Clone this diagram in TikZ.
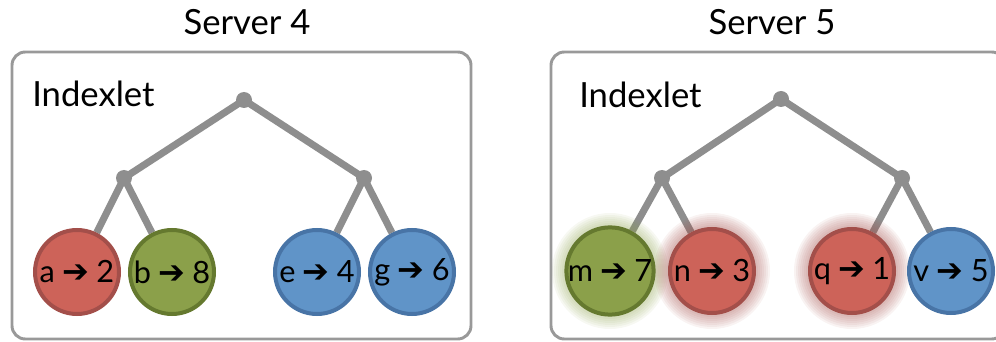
\documentclass[tikz,border=0pt]{standalone}
\usepackage{fontspec}
\setmainfont{Lato}
\newfontfamily\arrowfont{DejaVu Sans}
\usetikzlibrary{positioning}
\definecolor{treegray}{HTML}{8E8E8E}
\definecolor{boxgray}{HTML}{999999}
\definecolor{hotfill}{HTML}{CD6359}
\definecolor{hotline}{HTML}{A34F4A}
\definecolor{newfill}{HTML}{8BA04A}
\definecolor{newline}{HTML}{65792F}
\definecolor{coldfill}{HTML}{6094C8}
\definecolor{coldline}{HTML}{4874A6}
\pgfdeclarelayer{edges}
\pgfdeclarelayer{glow}
\pgfsetlayers{edges,glow,main}
\tikzset{
    % rounded frame of one server
    server/.style={draw=boxgray, line width=2.2pt, rounded corners=10pt},
    % big labels (server name, indexlet)
    title/.style={font=\fontsize{26}{29}\selectfont, inner sep=0pt},
    % inner tree node, a small gray dot
    branch/.style={circle, fill=treegray, inner sep=0pt, minimum size=12pt},
    % tree edges
    link/.style={treegray, line width=5.3pt},
    % leaf entry: key -> value in a coloured disc
    leaf/.style={circle, line width=3pt, inner sep=0pt, minimum size=63pt,
        font=\fontsize{23}{26}\selectfont},
    hot/.style={leaf, fill=hotfill, draw=hotline},
    new/.style={leaf, fill=newfill, draw=newline},
    cold/.style={leaf, fill=coldfill, draw=coldline},
}
\newcommand{\kv}[2]{#1\hspace{5.5pt}{\arrowfont\fontsize{24}{26}\selectfont\char"2794}\hspace{5.5pt}#2}

\begin{document}
\begin{tikzpicture}[x=0.75pt, y=-0.75pt]
    \useasboundingbox (0,0) rectangle (996,342);

    % ---- Server 4 ----
    \draw[server] (12,52) rectangle (471,339);
    \node[title, anchor=base] (s4) at (247,35) {Server 4};
    \node[title, anchor=base west] (ix4) at (32,107) {Indexlet};

    \node[branch] (r4) at (244,100) {};
    \node[branch] (l4) at (124,178) {};
    \node[branch] (m4) at (364,178) {};

    \node[hot]  (a) at (77,272)  {\kv{a}{2}};
    \node[new]  (b) at (172,272) {\kv{b}{8}};
    \node[cold] (e) at (317,272) {\kv{e}{4}};
    \node[cold] (g) at (412,272) {\kv{g}{6}};

    \begin{pgfonlayer}{edges}
        \draw[link] (r4.center) -- (l4.center);
        \draw[link] (r4.center) -- (m4.center);
        \foreach \x in {a,b}{ \draw[link] (l4.center) -- (\x); }
        \foreach \x in {e,g}{ \draw[link] (m4.center) -- (\x); }
    \end{pgfonlayer}

    % ---- Server 5 ----
    \draw[server] (551,52) rectangle (1005,339);
    \node[title, anchor=base] (s5) at (772,35) {Server 5};
    \node[title, anchor=base west] (ix5) at (579,108) {Indexlet};

    \node[branch] (r5) at (781,99)  {};
    \node[branch] (l5) at (662,178) {};
    \node[branch] (m5) at (902,178) {};

    \node[new]  (m) at (610,271) {\kv{m}{7}};
    \node[hot]  (n) at (712,271) {\kv{n}{3}};
    \node[hot]  (q) at (852,271) {\kv{q}{1}};
    \node[cold] (v) at (951,271) {\kv{v}{5}};

    \begin{pgfonlayer}{edges}
        \draw[link] (r5.center) -- (l5.center);
        \draw[link] (r5.center) -- (m5.center);
        \foreach \x in {m,n}{ \draw[link] (l5.center) -- (\x); }
        \foreach \x in {q,v}{ \draw[link] (m5.center) -- (\x); }
    \end{pgfonlayer}

    % soft halo round the moved entries
    \begin{pgfonlayer}{glow}
        \foreach \x/\c in {m/newfill,n/hotline,q/hotline}{
            \foreach \r in {33,34.5,...,44}{
                \fill[\c, opacity=0.07] (\x.center) circle (\r pt);
            }
        }
    \end{pgfonlayer}
\end{tikzpicture}
\end{document}
